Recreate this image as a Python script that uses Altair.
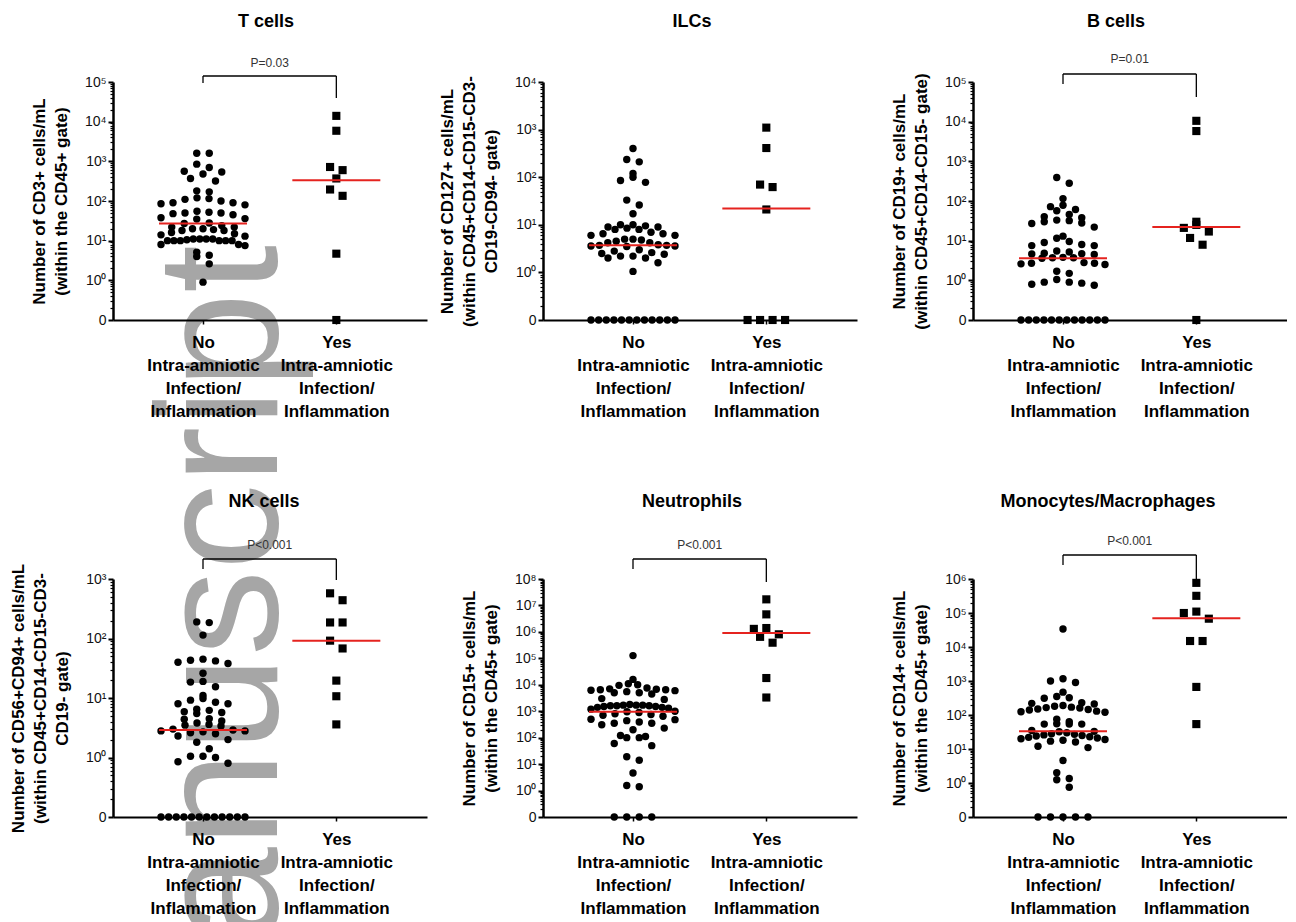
import math
import altair as alt
import pandas as pd

FONT = "Liberation Sans, Arial, sans-serif"

# ---------------- data ----------------
panel_titles = ["T cells", "ILCs", "B cells", "NK cells", "Neutrophils", "Monocytes/Macrophages"]
y_titles = [
    ["Number of CD3+ cells/mL", "(within the CD45+ gate)"],
    ["Number of CD127+ cells/mL", "(within CD45+CD14-CD15-CD3-", "CD19-CD94- gate)"],
    ["Number of CD19+ cells/mL", "(within CD45+CD14-CD15- gate)"],
    ["Number of CD56+CD94+ cells/mL", "(within CD45+CD14-CD15-CD3-", "CD19- gate)"],
    ["Number of CD15+ cells/mL", "(within the CD45+ gate)"],
    ["Number of CD14+ cells/mL", "(within the CD45+ gate)"],
]
top_exponents = [5, 4, 5, 3, 8, 6]
p_values = ["P=0.03", None, "P=0.01", "P<0.001", "P<0.001", "P<0.001"]
group_no = ["No", "Intra-amniotic", "Infection/", "Inflammation"]
group_yes = ["Yes", "Intra-amniotic", "Infection/", "Inflammation"]

t_no = [1600, 1600, 850, 700, 560, 540, 480, 370, 320, 180, 170, 120, 115, 110, 100, 90, 90, 85, 80,
        55, 52, 50, 50, 48, 45, 38, 36, 35, 28, 27, 24, 22, 22, 20, 20, 19, 18, 18, 16, 15, 14, 13,
        11, 11, 10.5, 10, 10, 10, 10, 10, 10, 11, 11, 8, 8, 7.5, 5.1, 4.3, 4.0, 2.6, 0.9]
t_yes = [14000, 5900, 720, 600, 370, 195, 135, 4.7, 0]

ilc_no = [400, 235, 210, 120, 100, 85, 78, 33, 26, 17, 10, 10, 9.5, 9, 9, 8.5, 8, 8, 7, 6.5, 6.5, 6, 6,
          5, 5, 4.8, 4.5, 4.2, 4.2, 3.8, 3.7, 3.7, 3.6, 3.6, 3.5, 3, 2.8, 2.6, 2.5, 2.4, 2.2, 2.2, 2, 2,
          1.6, 1.05, 0, 0, 0, 0, 0, 0, 0, 0, 0, 0, 0, 0]
ilc_yes = [1100, 410, 62, 70, 21, 0, 0, 0, 0]

b_no = [390, 280, 115, 78, 72, 61, 57, 46, 40, 38, 33, 32, 30, 28, 27, 22, 13, 11.5, 9.5, 9, 8, 7.5, 7.5,
        5.5, 5.2, 4.8, 4.7, 4.6, 4.5, 3.8, 3.7, 3.7, 3.6, 2.8, 2.7, 2.7, 2.6, 2.5, 1.7, 1.5, 1.05, 0.9,
        0.9, 0.85, 0.8, 0.75, 0, 0, 0, 0, 0, 0, 0, 0, 0, 0, 0, 0]
b_yes = [10500, 5800, 30, 21, 17, 25, 11.7, 7.9, 0]

nk_no = [190, 185, 114, 45, 43, 42, 40, 38, 26, 19, 18.5, 15.5, 11, 9.8, 9.2, 8.5, 8, 8, 6.5, 6.2, 5.9,
         5.7, 5.5, 4.5, 4.4, 4.1, 3.8, 3.6, 3.5, 3.4, 3.0, 2.9, 2.8, 2.8, 2.7, 2.6, 2.5, 2.3, 2.0, 1.8,
         1.4, 1.05, 1.05, 1.0, 0.85, 0.8, 0, 0, 0, 0, 0, 0, 0, 0, 0, 0, 0, 0]
nk_yes = [575, 440, 186, 186, 92, 68, 19.6, 10.7, 3.6]

neu_no = [127000, 16000, 11000, 10000, 9500, 7500, 7000, 6800, 6500, 6500, 6200, 6000, 5500, 5000, 5000,
          4500, 3000, 2800, 1800, 1700, 1700, 1700, 1600, 1600, 1600, 1500, 1500, 1400, 1400, 1300, 1200,
          1000, 950, 900, 800, 750, 700, 650, 500, 480, 440, 390, 350, 350, 310, 230, 200, 120, 110, 100,
          100, 60, 50, 19, 14, 4.6, 1.55, 1.4, 0, 0, 0, 0]
neu_yes = [1.7e7, 4.6e6, 1.4e6, 1.3e6, 8.1e5, 6.5e5, 3.9e5, 1.8e4, 3300]

mono_no = [34000, 1170, 1000, 900, 470, 350, 320, 310, 230, 220, 210, 190, 180, 170, 165, 160, 150, 145,
           140, 130, 125, 120, 75, 63, 55, 54, 54, 54, 35, 33, 32, 30, 28, 27, 26, 25, 24, 23, 22, 21, 20,
           19, 18, 17, 16, 12, 11, 4.6, 2.0, 1.35, 1.25, 0.75, 0, 0, 0, 0, 0]
mono_yes = [7.7e5, 3.2e5, 1e5, 1.1e5, 6.8e4, 1.5e4, 1.5e4, 670, 54]

values_no = [t_no, ilc_no, b_no, nk_no, neu_no, mono_no]
values_yes = [t_yes, ilc_yes, b_yes, nk_yes, neu_yes, mono_yes]
medians_no = [27, 3.7, 3.6, 2.9, 950, 33]
medians_yes = [335, 22, 22, 92, 9.0e5, 7.0e4]
watermark_text = ["anuscript"]

# ---------------- layout ----------------
W, H = 314, 238
X_DOMAIN = [-0.675, 1.68]
PXU = W / (X_DOMAIN[1] - X_DOMAIN[0])
ROW_H = 8.0       # px height of a scatter row
SLOT_MAX = 12.5   # px between neighbouring points in a sparse row
ROW_W = 84.0      # px max width of a scatter row
# bracket: (horizontal line, left leg end, right leg end, text centre) in px from plot top
BRACKETS = [(-6, 1, 16, -19), None, (-8, 2, 15, -23), (-20, -10, 1, -34), (-20, -10, 3, -34), (-24, -14, 0, -38)]
TITLE_OFFSETS = [26, 44, 22, 28, 28, 24]
TITLE_DX = [-4, -8, -14, -6, -8, -22]

YCALC = "datum.v > 0 ? log(datum.v) / LN10 : -1"
YLAB = "datum.value < 0 ? '0' : '10' + substring('\u2070\u00b9\u00b2\u00b3\u2074\u2075\u2076\u2077\u2078', datum.value, datum.value + 1)"


def js_list(lst):
    return "[" + ",".join("'" + s + "'" for s in lst) + "]"


XLAB = "datum.value == 0 ? " + js_list(group_no) + " : " + js_list(group_yes)


def scatter_rows(ys):
    """GraphPad-like column scatter: points grouped into rows, spread evenly around the centre."""
    n = len(ys)
    idx = sorted(range(n), key=lambda i: ys[i])
    bins, cur, start = [], [idx[0]], ys[idx[0]]
    for i in idx[1:]:
        if ys[i] - start < ROW_H:
            cur.append(i)
        else:
            bins.append(cur)
            cur, start = [i], ys[i]
    bins.append(cur)
    xs = [0.0] * n
    for b in bins:
        m = len(b)
        if m == 1:
            continue
        s = min(SLOT_MAX, ROW_W / (m - 1))
        slots = sorted([(k - (m - 1) / 2) * s for k in range(m)], key=lambda v: (round(abs(v), 6), v))
        members = sorted(b, key=lambda i: -ys[i])
        for i, sl in zip(members, slots):
            xs[i] = sl
    return xs


def make_panel(i):
    top = top_exponents[i]
    XS = alt.Scale(domain=X_DOMAIN, nice=False, zero=False)
    YS = alt.Scale(domain=[-1, top], nice=False, zero=False)
    ppd = H / (top + 1)
    rows = []
    for g, vals in enumerate([values_no[i], values_yes[i]]):
        ys = [(math.log10(v) if v > 0 else -1) * ppd for v in vals]
        offs = scatter_rows(ys)
        for v, o in zip(vals, offs):
            rows.append({"g": g, "v": v, "xo": g + o / PXU})
    df = pd.DataFrame(rows)

    major_axis = alt.Axis(values=list(range(-1, top + 1)), labelExpr=YLAB, title=y_titles[i], orient="left",
                          grid=False, domainWidth=2.5, domainColor="black", tickColor="black", tickWidth=2,
                          tickSize=5, labelFontSize=14, labelColor="#111", labelPadding=2, labelFont=FONT,
                          labelFlush=False, labelOverlap=False, titleFontSize=17, titleFontWeight="bold",
                          titleColor="black", titlePadding=14, titleLineHeight=22, titleFont=FONT, zindex=1)
    minor_vals = [round(d + math.log10(k), 5) for d in range(-1, top) for k in range(2, 10)]
    minor_axis = alt.Axis(values=minor_vals, labels=False, title=None, orient="left", grid=False,
                          domain=False, ticks=True, tickSize=3, tickWidth=1.2, tickColor="black", zindex=1)
    x_axis = alt.Axis(values=[0, 1], labelExpr=XLAB, title=None, grid=False, domainWidth=2,
                      domainColor="black", tickColor="black", tickWidth=1.5, tickSize=4, labelFontSize=17,
                      labelFontWeight="bold", labelColor="black", labelLineHeight=23, labelPadding=10,
                      labelFlush=False, labelOverlap=False, labelBound=False, labelFont=FONT, zindex=1)

    layers = []
    if i == 0:
        wm = pd.DataFrame({"t": watermark_text})
        layers.append(alt.Chart(wm).mark_text(angle=270, align="right", baseline="alphabetic", fontSize=172,
                                              color="#a6a6a6", font=FONT).encode(
            x=alt.value(164), y=alt.value(163), text="t:N"))

    circles = alt.Chart(df).transform_filter("datum.g == 0").transform_calculate(yt=YCALC).mark_point(
        shape="circle", filled=True, size=55, color="black", opacity=1).encode(
        x=alt.X("xo:Q", scale=XS, axis=x_axis), y=alt.Y("yt:Q", scale=YS, axis=major_axis))
    squares = alt.Chart(df).transform_filter("datum.g == 1").transform_calculate(yt=YCALC).mark_point(
        shape="square", filled=True, size=66, color="black", opacity=1).encode(
        x=alt.X("xo:Q", scale=XS, axis=x_axis), y=alt.Y("yt:Q", scale=YS, axis=None))
    layers += [circles, squares]

    med = pd.DataFrame({"g": [0, 1], "v": [medians_no[i], medians_yes[i]]})
    medians = alt.Chart(med).transform_calculate(yt=YCALC, lo="datum.g - 0.33", hi="datum.g + 0.33").mark_rule(
        color="#e5231f", strokeWidth=2).encode(
        x=alt.X("lo:Q", scale=XS, axis=x_axis), x2="hi:Q", y=alt.Y("yt:Q", scale=YS, axis=minor_axis))
    layers.append(medians)

    if p_values[i]:
        hy, ly, ry, ty = BRACKETS[i]
        bdf = pd.DataFrame({"a": [0], "b": [1], "label": [p_values[i]]})
        base = alt.Chart(bdf)
        layers.append(base.mark_rule(color="black", strokeWidth=1.3).encode(
            x=alt.X("a:Q", scale=XS, axis=x_axis), x2="b:Q", y=alt.value(hy)))
        layers.append(base.mark_rule(color="black", strokeWidth=1.3).encode(
            x=alt.X("a:Q", scale=XS, axis=x_axis), y=alt.value(hy), y2=alt.value(ly)))
        layers.append(base.mark_rule(color="black", strokeWidth=1.3).encode(
            x=alt.X("b:Q", scale=XS, axis=x_axis), y=alt.value(hy), y2=alt.value(ry)))
        layers.append(base.transform_calculate(mid="(datum.a + datum.b) / 2").mark_text(
            fontSize=12, color="#333", baseline="middle", font=FONT).encode(
            x=alt.X("mid:Q", scale=XS, axis=x_axis), y=alt.value(ty), text="label:N"))

    return alt.layer(*layers).resolve_axis(y="independent").properties(
        width=W, height=H,
        title=alt.TitleParams(panel_titles[i], fontSize=18, fontWeight="bold", color="black", anchor="middle",
                              frame="group", offset=TITLE_OFFSETS[i], dx=TITLE_DX[i], font=FONT))


panels = [make_panel(i) for i in range(6)]
chart = alt.concat(*panels, columns=3, spacing={"row": 259, "column": 116}, bounds="flush").configure_view(
    stroke=None).properties(padding={"left": 1, "top": 5, "right": 0, "bottom": 5})

chart.save("out.html", embed_options={"renderer": "svg", "actions": False})
